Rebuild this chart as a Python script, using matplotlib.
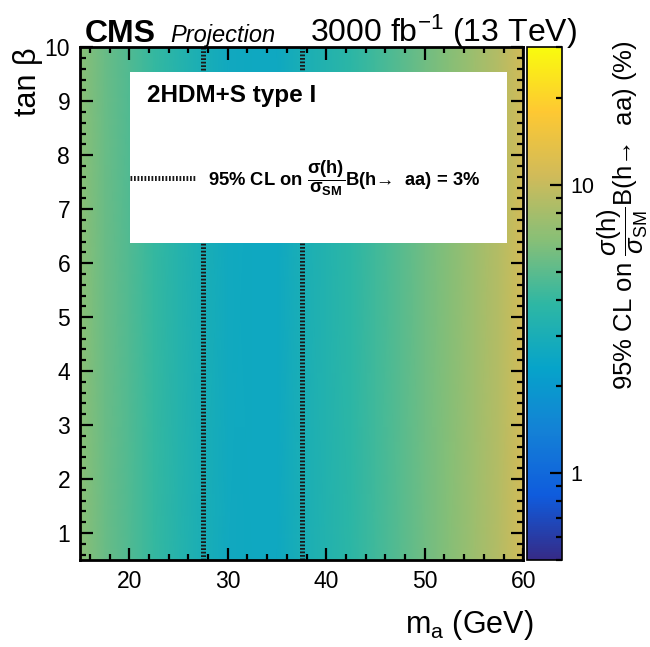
import numpy as np
import matplotlib
matplotlib.use('Agg')
import matplotlib.pyplot as plt
from matplotlib import ticker as mticker
from matplotlib.colors import LinearSegmentedColormap, LogNorm
from matplotlib.patches import Rectangle
from matplotlib.lines import Line2D

plt.rcParams['font.family'] = ['Liberation Sans', 'DejaVu Sans']
plt.rcParams['mathtext.fontset'] = 'custom'
plt.rcParams['mathtext.rm'] = 'Liberation Sans'
plt.rcParams['mathtext.it'] = 'Liberation Sans:italic'
plt.rcParams['mathtext.bf'] = 'Liberation Sans:bold'

# 95% CL limit (%) vs m_a, flat in tan beta
ma = [15, 17.5, 20, 22.5, 25, 27.5, 30, 32.5, 35, 37.5, 40, 42.5, 45, 47.5, 50, 52.5, 55, 57.5, 60]
limit = [6.6, 5.5, 4.7, 4.0, 3.5, 3.0, 2.7, 2.6, 2.6, 3.0, 3.4, 3.8, 4.3, 4.9, 5.6, 6.4, 7.5, 8.8, 10.8]
tanb = [0.5, 10]
contour_level = 3

# ROOT kBird palette
stops = [0.0, 0.125, 0.25, 0.375, 0.5, 0.625, 0.75, 0.875, 1.0]
red = [0.2082, 0.0592, 0.0780, 0.0232, 0.1802, 0.5301, 0.8186, 0.9956, 0.9764]
green = [0.1664, 0.3599, 0.5041, 0.6419, 0.7178, 0.7492, 0.7328, 0.7862, 0.9832]
blue = [0.5293, 0.8684, 0.8385, 0.7914, 0.6425, 0.4662, 0.3499, 0.1968, 0.0539]
bird = LinearSegmentedColormap.from_list('bird', list(zip(stops, zip(red, green, blue))))

fig = plt.figure(figsize=(6.5, 6.47), dpi=100)
ax = fig.add_axes([0.123, 0.1345, 0.682, 0.7925])
cax = fig.add_axes([0.811, 0.1345, 0.054, 0.7925])

Z = np.vstack([limit, limit])
norm = LogNorm(vmin=0.5, vmax=30)
mesh = ax.pcolormesh(ma, tanb, Z, cmap=bird, norm=norm, shading='gouraud', zorder=1)
ax.contour(ma, tanb, Z, levels=[contour_level], colors='#1a1a1a',
           linewidths=3.6, linestyles=[(0, (0.35, 0.35))], zorder=2)

ax.set_xlim(15, 60)
ax.set_ylim(0.5, 10)
ax.xaxis.set_major_locator(mticker.MultipleLocator(10))
ax.xaxis.set_minor_locator(mticker.MultipleLocator(2))
ax.yaxis.set_major_locator(mticker.MultipleLocator(1))
ax.yaxis.set_minor_locator(mticker.MultipleLocator(0.2))
ax.tick_params(which='both', direction='in', top=True, right=True, width=1.6, labelsize=16.5)
ax.tick_params(which='major', length=9, pad=7)
ax.tick_params(which='minor', length=4.5)
for s in ax.spines.values():
    s.set_linewidth(2)
    s.set_zorder(5)

# legend box
ax.add_patch(Rectangle((0.113, 0.618), 0.851, 0.333, transform=ax.transAxes,
                       facecolor='white', edgecolor='none', zorder=3))
ax.text(0.152, 0.905, '2HDM+S type I', transform=ax.transAxes, fontsize=17.5,
        fontweight='bold', va='center', ha='left', zorder=4)
ax.add_line(Line2D([0.113, 0.26], [0.745, 0.745], transform=ax.transAxes, color='#1a1a1a',
                   linewidth=3.6, linestyle=(0, (0.35, 0.35)), zorder=4))
ax.text(0.289, 0.745,
        r'95% CL on $\dfrac{\mathbf{\sigma(h)}}{\mathbf{\sigma_{SM}}}$B(h→  aa) = 3%',
        transform=ax.transAxes, fontsize=13.2, fontweight='bold', va='center', ha='left', zorder=4)

# colorbar
cb = fig.colorbar(mesh, cax=cax)
cb.outline.set_linewidth(1.2)
cax.yaxis.set_major_locator(mticker.FixedLocator([1, 10]))
cax.yaxis.set_major_formatter(mticker.FixedFormatter(['1', '10']))
cax.yaxis.set_minor_locator(mticker.LogLocator(base=10, subs=np.arange(2, 10)))
cax.yaxis.set_minor_formatter(mticker.NullFormatter())
cax.tick_params(which='both', direction='in', right=True, left=False, width=1.6, labelsize=15.5)
cax.tick_params(which='major', length=9, pad=6)
cax.tick_params(which='minor', length=4.5)

# header and axis titles
fig.text(85 / 650, 1 - 42 / 647, 'CMS', fontsize=23, fontweight='bold', va='baseline', ha='left')
fig.text(170 / 650, 1 - 42 / 647, 'Projection', fontsize=17, fontstyle='italic', va='baseline', ha='left')
fig.text(577 / 650, 1 - 42 / 647, r'3000 fb$^{-1}$ (13 TeV)', fontsize=23, va='baseline', ha='right')
fig.text(28 / 650, 1 - 47 / 647, 'tan β', fontsize=22, rotation=90, va='top', ha='center')
fig.text(533 / 650, 1 - 633 / 647, r'm$_\mathrm{a}$ (GeV)', fontsize=22, va='baseline', ha='right')
fig.text(623 / 650, 1 - 40 / 647,
         r'95% CL on $\dfrac{\sigma(\mathrm{h})}{\sigma_{\mathrm{SM}}}$B(h→  aa) (%)',
         fontsize=18.5, rotation=90, va='top', ha='center')

fig.savefig('out.png', dpi=100)
